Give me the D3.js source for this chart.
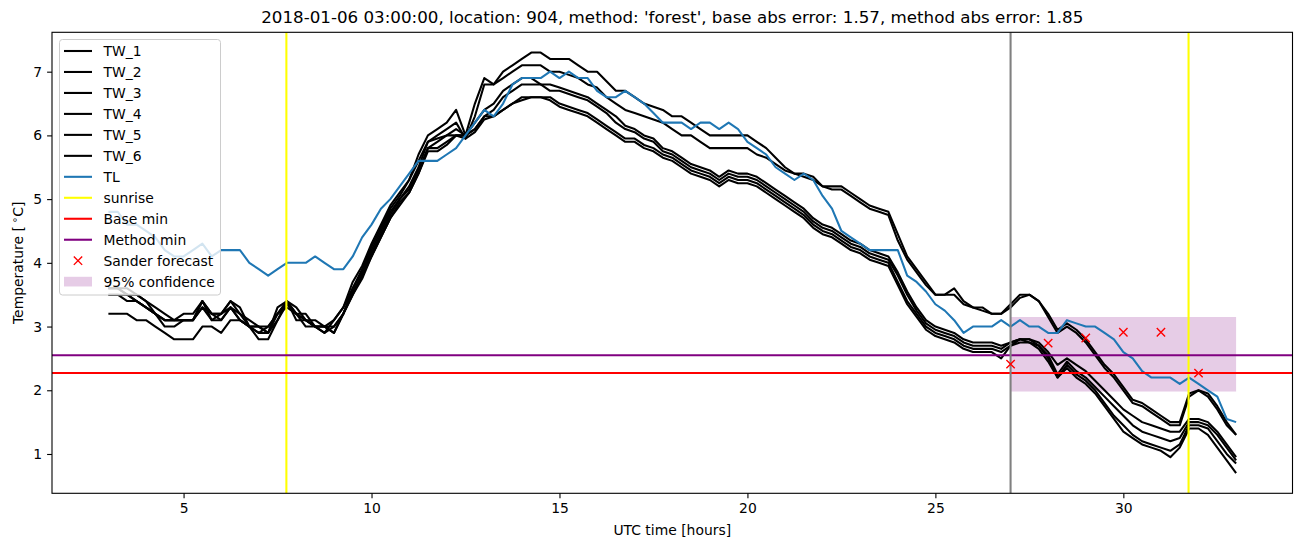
<!DOCTYPE html>
<html><head><meta charset="utf-8">
<script src="https://cdn.jsdelivr.net/npm/d3@7"></script>
<style>body{margin:0;background:#fff} text{font-family:"DejaVu Sans",sans-serif;fill:#000}</style>
</head><body><svg id="c" width="1302" height="547"></svg>
<script>
// time grid: 3h .. 33h, quarter hour samples
const hours = d3.range(121).map(i => 3 + i * 0.25);

const TW_1 = [3.6,3.6,3.6,3.5,3.4,3.3,3.2,3.1,3.1,3.1,3.4,3.2,3.2,3.4,3.2,3.1,3.0,3.0,3.2,3.4,3.2,3.2,3.0,3.0,3.1,3.3,
3.7,3.95,4.3,4.6,4.9,5.1,5.3,5.7,6.0,
6.1,6.2,6.4,6.0,6.5,6.9,6.8,7.0,7.1,7.2,7.3,7.3,7.2,
7.2,7.2,7.1,7.0,7.0,6.85,6.7,6.7,6.6,6.5,6.45,6.4,6.3,6.3,6.2,6.1,6.0,6.0,6.0,6.0,6.0,5.9,5.8,5.65,5.5,5.4,5.4,5.35,5.2,5.2,5.2,5.1,5.0,4.9,4.85,4.8,4.45,4.1,3.9,3.7,3.5,3.5,3.6,3.4,3.3,3.3,3.2,3.2,
3.35,3.5,3.5,3.4,3.2,2.95,3.05,2.95,2.8,2.6,2.4,2.25,2.05,1.85,1.8,1.7,1.6,1.5,1.5,1.95,2.0,1.95,1.75,1.5,1.3];

const TW_2 = [3.6,3.6,3.5,3.5,3.4,3.2,3.1,3.1,3.2,3.2,3.4,3.1,3.2,3.4,3.3,3.0,3.0,2.9,3.1,3.4,3.2,3.1,3.0,2.9,3.1,3.3,
3.6,3.9,4.25,4.55,4.85,5.05,5.3,5.6,5.9,
6.0,6.1,6.2,5.95,6.3,6.8,6.8,6.9,7.0,7.1,7.1,7.1,7.0,
7.0,6.95,6.9,6.8,6.75,6.6,6.5,6.4,6.35,6.3,6.25,6.2,6.1,6.0,6.0,5.9,5.8,5.8,5.8,5.8,5.8,5.7,5.65,5.55,5.45,5.4,5.35,5.3,5.2,5.15,5.15,5.05,4.95,4.85,4.8,4.75,4.35,4.05,3.85,3.65,3.5,3.5,3.5,3.35,3.3,3.25,3.2,3.2,
3.3,3.45,3.5,3.4,3.15,2.9,3.0,2.9,2.75,2.55,2.35,2.2,2.0,1.8,1.75,1.65,1.55,1.45,1.45,1.9,2.0,1.9,1.7,1.45,1.3];

const TW_3 = [3.6,3.6,3.5,3.4,3.3,3.2,3.1,3.1,3.1,3.1,3.3,3.2,3.1,3.3,3.2,3.0,2.9,3.0,3.2,3.4,3.1,3.1,3.1,3.0,3.0,3.2,
3.6,3.85,4.2,4.5,4.8,5.0,5.2,5.5,5.9,
5.95,6.0,6.1,6.0,6.2,6.4,6.5,6.7,6.8,6.9,6.9,6.8,6.8,
6.75,6.7,6.65,6.6,6.5,6.4,6.3,6.15,6.1,6.0,5.95,5.8,5.75,5.65,5.55,5.5,5.45,5.35,5.45,5.4,5.4,5.35,5.25,5.15,5.05,4.95,4.85,4.7,4.6,4.55,4.45,4.35,4.3,4.2,4.15,4.1,3.85,3.55,3.3,3.1,3.0,2.95,2.9,2.8,2.75,2.75,2.75,2.7,
2.75,2.8,2.8,2.75,2.6,2.4,2.5,2.4,2.3,2.15,2.0,1.85,1.7,1.6,1.5,1.45,1.4,1.35,1.35,1.55,1.55,1.5,1.35,1.15,0.95];

const TW_4 = [3.5,3.5,3.5,3.4,3.3,3.2,3.0,3.0,3.1,3.1,3.3,3.1,3.1,3.3,3.1,3.0,3.0,2.9,3.2,3.3,3.2,3.0,3.0,3.0,2.9,3.2,
3.55,3.8,4.15,4.45,4.75,5.0,5.15,5.45,5.8,
5.9,6.0,6.0,6.0,6.1,6.3,6.4,6.6,6.7,6.8,6.8,6.8,6.7,
6.7,6.65,6.6,6.55,6.45,6.35,6.2,6.1,6.05,5.95,5.9,5.75,5.7,5.6,5.5,5.45,5.4,5.3,5.4,5.35,5.35,5.3,5.2,5.1,5.0,4.9,4.8,4.65,4.55,4.5,4.4,4.3,4.25,4.15,4.1,4.05,3.8,3.5,3.25,3.05,2.95,2.9,2.85,2.75,2.7,2.7,2.7,2.65,
2.75,2.8,2.8,2.7,2.55,2.25,2.45,2.3,2.2,2.05,1.9,1.75,1.6,1.45,1.35,1.3,1.25,1.2,1.25,1.5,1.5,1.45,1.3,1.1,0.9];

const TW_5 = [3.5,3.5,3.4,3.4,3.3,3.2,3.1,3.1,3.1,3.1,3.4,3.2,3.2,3.3,3.1,3.0,2.9,2.9,3.3,3.4,3.3,3.1,3.0,2.9,3.0,3.2,
3.5,3.8,4.1,4.4,4.7,4.95,5.1,5.4,5.8,
5.8,5.9,6.0,6.0,6.1,6.3,6.3,6.4,6.5,6.6,6.6,6.6,6.6,
6.5,6.45,6.4,6.35,6.25,6.15,6.05,5.95,5.95,5.85,5.8,5.7,5.65,5.55,5.45,5.4,5.35,5.25,5.35,5.3,5.3,5.25,5.15,5.05,4.95,4.85,4.75,4.6,4.5,4.45,4.35,4.25,4.2,4.1,4.05,4.0,3.7,3.4,3.2,3.0,2.9,2.85,2.8,2.7,2.65,2.65,2.65,2.6,
2.7,2.8,2.75,2.7,2.5,2.2,2.4,2.25,2.15,2.0,1.8,1.6,1.45,1.3,1.2,1.15,1.1,1.05,1.15,1.45,1.45,1.4,1.2,1.0,0.85];

const TW_6 = [3.2,3.2,3.2,3.1,3.1,3.0,2.9,2.8,2.8,2.8,3.0,3.0,2.9,3.1,3.1,3.0,2.8,2.8,3.1,3.35,3.2,3.1,3.0,3.0,2.9,3.2,
3.5,3.75,4.1,4.4,4.7,4.9,5.1,5.4,5.75,
5.75,5.85,6.0,5.95,6.05,6.25,6.3,6.4,6.5,6.55,6.6,6.6,6.55,
6.45,6.4,6.35,6.3,6.2,6.1,6.0,5.9,5.9,5.8,5.75,5.65,5.6,5.5,5.4,5.35,5.3,5.2,5.3,5.25,5.25,5.2,5.1,5.0,4.9,4.8,4.7,4.55,4.45,4.4,4.3,4.2,4.15,4.05,4.0,3.95,3.65,3.35,3.15,2.95,2.85,2.8,2.75,2.65,2.6,2.6,2.6,2.5,
2.7,2.75,2.75,2.65,2.45,2.2,2.35,2.2,2.1,1.95,1.75,1.55,1.35,1.25,1.15,1.1,1.05,0.95,1.1,1.4,1.4,1.3,1.1,0.9,0.7];

const TL = [4.8,4.8,4.6,4.6,4.5,4.4,4.2,4.1,4.1,4.2,4.3,4.1,4.2,4.2,4.2,4.0,3.9,3.8,3.9,4.0,4.0,4.0,4.1,4.0,3.9,3.9,
4.1,4.4,4.6,4.85,5.0,5.2,5.4,5.6,5.6,
5.6,5.7,5.8,6.0,6.2,6.4,6.3,6.5,6.8,6.9,6.9,6.9,7.0,
6.9,7.0,6.9,6.9,6.7,6.6,6.6,6.7,6.6,6.5,6.35,6.2,6.2,6.2,6.1,6.2,6.2,6.1,6.2,6.1,5.9,5.8,5.7,5.5,5.4,5.3,5.4,5.3,5.05,4.85,4.5,4.4,4.3,4.2,4.2,4.2,4.2,3.8,3.7,3.55,3.35,3.25,3.1,2.9,3.0,3.0,3.0,3.1,
3.0,3.1,3.0,3.0,2.9,2.9,3.1,3.05,3.0,3.0,2.9,2.8,2.6,2.5,2.3,2.2,2.2,2.2,2.1,2.2,2.1,2.0,1.9,1.55,1.5];

const sunriseHours = [7.735, 31.735];
const forecastHour = 27;
const baseMin = 2.27;
const methodMin = 2.55;
const sanderHours = [27, 28, 29, 30, 31, 32];
const sanderValues = [2.41, 2.74, 2.82, 2.91, 2.91, 2.27];
const confHours = [27, 33];
const confLow = 1.98, confHigh = 3.15;
const xTicks = [5, 10, 15, 20, 25, 30];
const yTicks = [1, 2, 3, 4, 5, 6, 7];
const titleText = "2018-01-06 03:00:00, location: 904, method: 'forest', base abs error: 1.57, method abs error: 1.85";

const svg = d3.select("#c");
const L = 52, R = 1292.5, T = 32.3, B = 493.3;
const x = d3.scaleLinear().domain([1.5, 34.5]).range([L, R]);
const y = d3.scaleLinear().domain([0.383, 7.618]).range([B, T]);

const clip = svg.append("defs").append("clipPath").attr("id", "pa")
  .append("rect").attr("x", L).attr("y", T).attr("width", R - L).attr("height", B - T);
const plot = svg.append("g").attr("clip-path", "url(#pa)");
const LW = 2.08;

// confidence band
plot.append("rect")
  .attr("x", x(confHours[0])).attr("width", x(confHours[1]) - x(confHours[0]))
  .attr("y", y(confHigh)).attr("height", y(confLow) - y(confHigh))
  .attr("fill", "purple").attr("fill-opacity", 0.2);

const line = d3.line().x((d, i) => x(hours[i])).y(d => y(d));
[TW_1, TW_2, TW_3, TW_4, TW_5, TW_6].forEach(s => {
  plot.append("path").datum(s).attr("d", line).attr("fill", "none")
    .attr("stroke", "#000").attr("stroke-width", LW).attr("stroke-linejoin", "round");
});
plot.append("path").datum(TL).attr("d", line).attr("fill", "none")
  .attr("stroke", "#1f77b4").attr("stroke-width", LW).attr("stroke-linejoin", "round");

sunriseHours.forEach(h => plot.append("line").attr("x1", x(h)).attr("x2", x(h))
  .attr("y1", T).attr("y2", B).attr("stroke", "#ffff00").attr("stroke-width", LW));
plot.append("line").attr("x1", L).attr("x2", R).attr("y1", y(baseMin)).attr("y2", y(baseMin))
  .attr("stroke", "red").attr("stroke-width", LW);
plot.append("line").attr("x1", L).attr("x2", R).attr("y1", y(methodMin)).attr("y2", y(methodMin))
  .attr("stroke", "purple").attr("stroke-width", LW);
plot.append("line").attr("x1", x(forecastHour)).attr("x2", x(forecastHour))
  .attr("y1", T).attr("y2", B).attr("stroke", "grey").attr("stroke-width", LW);

const ms = 4.17;
function cross(g, cx, cy) {
  g.append("path").attr("d", `M${cx-ms},${cy-ms}L${cx+ms},${cy+ms}M${cx-ms},${cy+ms}L${cx+ms},${cy-ms}`)
    .attr("stroke", "red").attr("stroke-width", 1.4).attr("fill", "none");
}
sanderHours.forEach((h, i) => cross(plot, x(h), y(sanderValues[i])));

// axes
const ax = svg.append("g").attr("transform", `translate(0,${B})`)
  .call(d3.axisBottom(x).tickValues(xTicks).tickSize(4.9).tickPadding(4.9).tickFormat(d3.format("d")));
const ay = svg.append("g").attr("transform", `translate(${L},0)`)
  .call(d3.axisLeft(y).tickValues(yTicks).tickSize(4.9).tickPadding(4.9).tickFormat(d3.format("d")));
[ax, ay].forEach(g => {
  g.select(".domain").remove();
  g.selectAll(".tick line").attr("stroke", "#000").attr("stroke-width", 1.1);
  g.selectAll(".tick text").attr("font-size", "13.9px").attr("font-family", "DejaVu Sans").attr("fill", "#000");
});
svg.append("rect").attr("x", L).attr("y", T).attr("width", R - L).attr("height", B - T)
  .attr("fill", "none").attr("stroke", "#000").attr("stroke-width", 1.1);

svg.append("text").attr("x", (L + R) / 2).attr("y", 23).attr("text-anchor", "middle")
  .attr("font-size", "16.7px").text(titleText);
svg.append("text").attr("x", (L + R) / 2).attr("y", 535).attr("text-anchor", "middle")
  .attr("font-size", "13.9px").text("UTC time [hours]");
const yl = svg.append("text").attr("transform", `translate(23,${(T + B) / 2}) rotate(-90)`)
  .attr("text-anchor", "middle").attr("font-size", "13.9px");
yl.append("tspan").text("Temperature [");
yl.append("tspan").attr("font-size", "10px").attr("dy", -5).text(" \u2218");
yl.append("tspan").attr("dy", 5).text("C]");

// legend
const lg = svg.append("g");
lg.append("rect").attr("x", 59.5).attr("y", 39.5).attr("width", 161).attr("height", 255.5).attr("rx", 3)
  .attr("fill", "#fff").attr("fill-opacity", 0.8).attr("stroke", "#cccccc");
const items = [
  {label: "TW_1", type: "line", color: "#000"},
  {label: "TW_2", type: "line", color: "#000"},
  {label: "TW_3", type: "line", color: "#000"},
  {label: "TW_4", type: "line", color: "#000"},
  {label: "TW_5", type: "line", color: "#000"},
  {label: "TW_6", type: "line", color: "#000"},
  {label: "TL", type: "line", color: "#1f77b4"},
  {label: "sunrise", type: "line", color: "#ffff00"},
  {label: "Base min", type: "line", color: "red"},
  {label: "Method min", type: "line", color: "purple"},
  {label: "Sander forecast", type: "marker", color: "red"},
  {label: "95% confidence", type: "patch", color: "purple"}
];
items.forEach((it, i) => {
  const cy = 51 + i * 20.97;
  if (it.type === "line") {
    lg.append("line").attr("x1", 64).attr("x2", 92).attr("y1", cy).attr("y2", cy)
      .attr("stroke", it.color).attr("stroke-width", LW);
  } else if (it.type === "marker") {
    cross(lg, 78, cy);
  } else {
    lg.append("rect").attr("x", 64).attr("y", cy - 4.9).attr("width", 28).attr("height", 9.7)
      .attr("fill", it.color).attr("fill-opacity", 0.2);
  }
  lg.append("text").attr("x", 103.5).attr("y", cy + 5).attr("font-size", "13.9px").text(it.label);
});
</script></body></html>
